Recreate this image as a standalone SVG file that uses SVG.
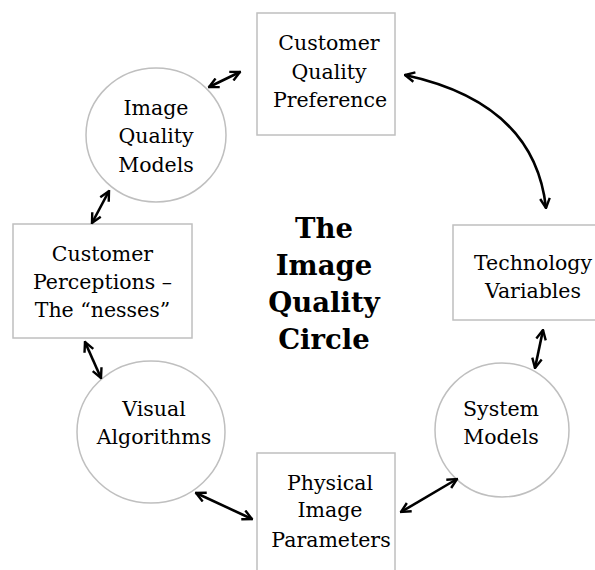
<svg xmlns="http://www.w3.org/2000/svg" width="595" height="570" viewBox="0 0 595 570">
<style>
.box{fill:#fff;stroke:#bfbfbf;stroke-width:1.5}
.t{font-family:"DejaVu Serif","Liberation Serif",serif;font-size:20.5px;fill:#000;text-anchor:middle}
.title{font-family:"DejaVu Serif","Liberation Serif",serif;font-size:27.5px;font-weight:bold;fill:#000;text-anchor:middle}
.c{fill:none;stroke:#000;stroke-width:2.6}
</style>
<defs>
<marker id="ah" viewBox="0 0 10 10" refX="9" refY="5" markerWidth="12" markerHeight="12" markerUnits="userSpaceOnUse" orient="auto-start-reverse">
<path d="M1,1 L9,5 L1,9" fill="none" stroke="#000" stroke-width="2"/>
</marker>
</defs>
<rect width="595" height="570" fill="#fff"/>
<g id="cqp">
<rect class="box" x="257" y="13" width="138" height="122"/>
<text class="t" x="329" y="50">Customer</text>
<text class="t" x="329" y="79">Quality</text>
<text class="t" x="330" y="107">Preference</text>
</g>
<g id="tv">
<rect class="box" x="453" y="225" width="150" height="95"/>
<text class="t" x="533" y="270">Technology</text>
<text class="t" x="533" y="298">Variables</text>
</g>
<g id="sm">
<ellipse class="box" cx="502" cy="430" rx="67" ry="67"/>
<text class="t" x="501" y="416">System</text>
<text class="t" x="501" y="444">Models</text>
</g>
<g id="pip">
<rect class="box" x="257" y="453" width="138" height="130"/>
<text class="t" x="330" y="490">Physical</text>
<text class="t" x="330" y="517">Image</text>
<text class="t" x="331" y="547">Parameters</text>
</g>
<g id="va">
<ellipse class="box" cx="151" cy="432" rx="74" ry="71"/>
<text class="t" x="154" y="416">Visual</text>
<text class="t" x="154" y="444">Algorithms</text>
</g>
<g id="cp">
<rect class="box" x="13" y="224" width="179" height="114"/>
<text class="t" x="102.5" y="261">Customer</text>
<text class="t" x="102.5" y="289">Perceptions –</text>
<text class="t" x="102.5" y="317">The “nesses”</text>
</g>
<g id="iqm">
<ellipse class="box" cx="156" cy="135" rx="70" ry="67"/>
<text class="t" x="156" y="115">Image</text>
<text class="t" x="156" y="143">Quality</text>
<text class="t" x="156" y="172">Models</text>
</g>
<g id="title">
<text class="title" x="324" y="238">The</text>
<text class="title" x="324" y="275">Image</text>
<text class="title" x="324" y="312">Quality</text>
<text class="title" x="324" y="349">Circle</text>
</g>
<g id="connectors">
<line class="c" x1="209" y1="87" x2="240" y2="72" marker-start="url(#ah)" marker-end="url(#ah)"/>
<path class="c" d="M405,75 Q534.5,103 546,208" marker-start="url(#ah)" marker-end="url(#ah)"/>
<line class="c" x1="543" y1="330" x2="535" y2="368" marker-start="url(#ah)" marker-end="url(#ah)"/>
<line class="c" x1="401" y1="512" x2="457" y2="479" marker-start="url(#ah)" marker-end="url(#ah)"/>
<line class="c" x1="196" y1="493" x2="252" y2="519" marker-start="url(#ah)" marker-end="url(#ah)"/>
<line class="c" x1="85" y1="342" x2="101" y2="378" marker-start="url(#ah)" marker-end="url(#ah)"/>
<line class="c" x1="92" y1="223" x2="109" y2="191" marker-start="url(#ah)" marker-end="url(#ah)"/>
</g>
</svg>
